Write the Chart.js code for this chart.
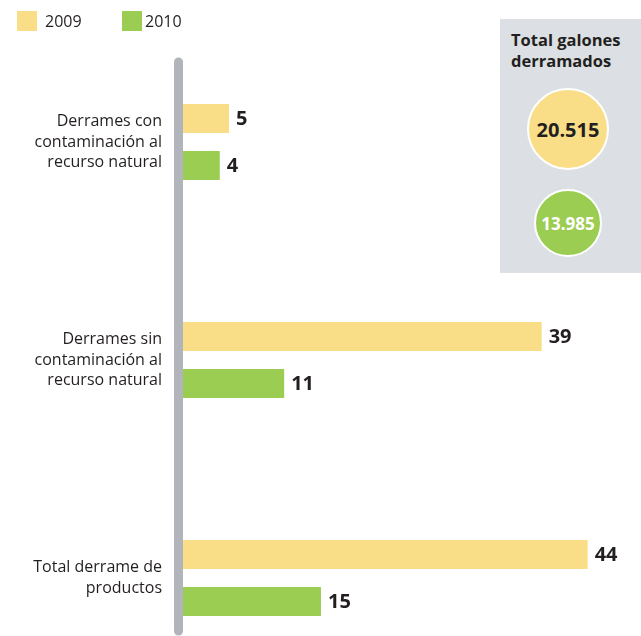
<!DOCTYPE html>
<html>
<head>
<meta charset="utf-8">
<script src="https://cdn.jsdelivr.net/npm/chart.js@4/dist/chart.umd.min.js"></script>
<style>
  body { margin: 0; background: #fff; font-family: "Open Sans", sans-serif; color: #231f20; }
  #wrap { position: relative; width: 641px; height: 636px; overflow: hidden; }
  #myBarChart { position: absolute; left: 0; top: 0; }
  .leg-box { position: absolute; top: 11px; width: 20px; height: 20px; }
  .leg-text { position: absolute; top: 9px; font-size: 16px; line-height: 24px; }
  #totals { position: absolute; left: 500px; top: 19px; width: 141px; height: 254px; background: #dcdfe3; }
  #totals .title { position: absolute; left: 11px; top: 10px; font-weight: bold; font-size: 16.5px; line-height: 21px; }
  .circle { position: absolute; border: 2px solid #fff; border-radius: 50%; box-sizing: border-box;
            display: flex; align-items: center; justify-content: center; font-weight: bold; }
</style>
</head>
<body>
<div id="wrap">
  <canvas id="myBarChart" width="641" height="636"></canvas>
  <div id="legend"></div>
  <div id="totals">
    <div class="title">Total galones<br>derramados</div>
  </div>
</div>
<script>
var categories = [
    ['Derrames con', 'contaminación al', 'recurso natural'],
    ['Derrames sin', 'contaminación al', 'recurso natural'],
    ['Total derrame de', 'productos']
];
var seriesNames = ['2009', '2010'];
var values2009 = [5, 39, 44];
var values2010 = [4, 11, 15];
var totalGalones = ['20.515', '13.985'];
var colors = ['#fade87', '#9bcd53'];

// legend
var legend = document.getElementById('legend');
var legX = [17, 122];
for (var i = 0; i < seriesNames.length; i++) {
    var box = document.createElement('div');
    box.className = 'leg-box';
    box.style.left = legX[i] + 'px';
    box.style.background = colors[i];
    legend.appendChild(box);
    var txt = document.createElement('div');
    txt.className = 'leg-text';
    txt.style.left = (legX[i] + 28 - i * 5) + 'px';
    txt.textContent = seriesNames[i];
    legend.appendChild(txt);
}

// total circles
var totals = document.getElementById('totals');
var circleStyle = [
    { left: 27, top: 69, size: 82, font: 20, color: '#231f20' },
    { left: 34, top: 170, size: 68, font: 17, color: '#ffffff' }
];
for (var k = 0; k < totalGalones.length; k++) {
    var c = document.createElement('div');
    var st = circleStyle[k];
    c.className = 'circle';
    c.style.left = st.left + 'px';
    c.style.top = st.top + 'px';
    c.style.width = st.size + 'px';
    c.style.height = st.size + 'px';
    c.style.background = colors[k];
    c.style.fontSize = st.font + 'px';
    c.style.color = st.color;
    c.textContent = totalGalones[k];
    totals.appendChild(c);
}

// gray vertical axis bar
var axisBar = {
    id: 'axisBar',
    beforeDatasetsDraw: function(chart) {
        var ctx = chart.ctx;
        var x = chart.chartArea.left - 4.5;
        ctx.save();
        ctx.strokeStyle = '#b1b5bb';
        ctx.lineWidth = 9;
        ctx.lineCap = 'round';
        ctx.beginPath();
        ctx.moveTo(x, 62);
        ctx.lineTo(x, chart.height - 5);
        ctx.stroke();
        ctx.restore();
    }
};

// numbers at the end of the bars
var valueLabels = {
    id: 'valueLabels',
    afterDatasetsDraw: function(chart) {
        var ctx = chart.ctx;
        ctx.save();
        ctx.font = 'bold 20px "Open Sans"';
        ctx.fillStyle = '#231f20';
        ctx.textBaseline = 'middle';
        chart.data.datasets.forEach(function(ds, i) {
            chart.getDatasetMeta(i).data.forEach(function(bar, j) {
                ctx.fillText(ds.data[j], bar.x + 7, bar.y + 1);
            });
        });
        ctx.restore();
    }
};

var ctx = document.getElementById('myBarChart');
var myChart = new Chart(ctx, {
    type: 'bar',
    data: {
        labels: categories,
        datasets: [{
            label: seriesNames[0],
            data: values2009,
            backgroundColor: colors[0],
            clip: false
        }, {
            label: seriesNames[1],
            data: values2010,
            backgroundColor: colors[1],
            clip: false
        }]
    },
    options: {
        indexAxis: 'y',
        responsive: false,
        animation: false,
        categoryPercentage: 0.4317,
        barPercentage: 0.617,
        layout: { padding: { top: 142, bottom: 58, left: 0, right: 0 } },
        plugins: {
            legend: { display: false },
            tooltip: { enabled: false }
        },
        scales: {
            x: { display: false, min: 0, max: 49.8 },
            y: {
                offset: false,
                grid: { display: false, drawTicks: false },
                border: { display: false },
                afterFit: function(scale) { scale.width = 183; },
                ticks: {
                    padding: 21,
                    color: '#231f20',
                    font: { family: 'Open Sans', size: 16, lineHeight: 1.3 }
                }
            }
        }
    },
    plugins: [axisBar, valueLabels]
});
</script>
</body>
</html>
